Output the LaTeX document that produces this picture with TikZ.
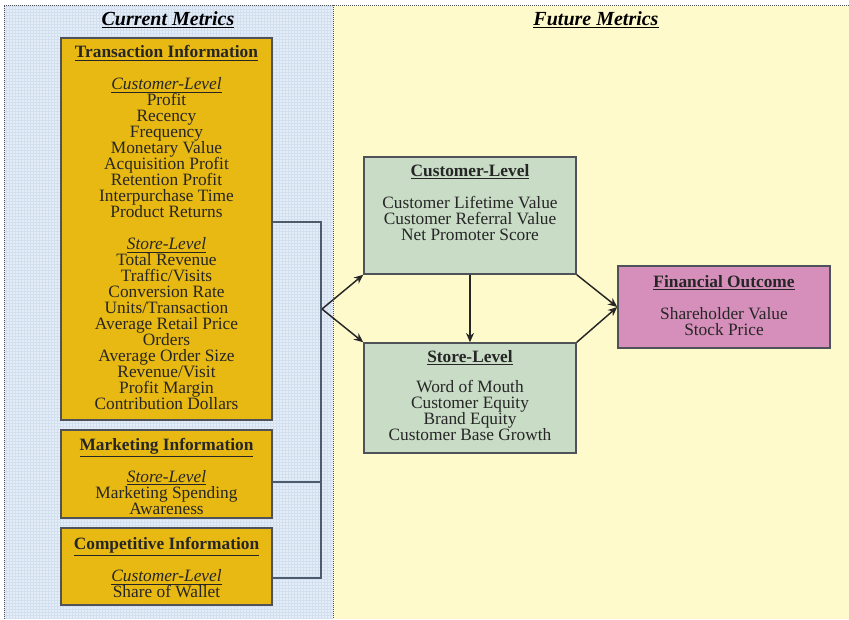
\documentclass[tikz,border=0pt]{standalone}
\usepackage{fontspec}
\setmainfont{Liberation Serif}
\usetikzlibrary{positioning,arrows.meta}

\definecolor{panelblue}{HTML}{E4EDF8}
\definecolor{gridblue}{HTML}{D2DFEF}
\definecolor{panelyellow}{HTML}{FFFACC}
\definecolor{boxgold}{HTML}{E8B912}
\definecolor{boxgreen}{HTML}{C8DCC6}
\definecolor{boxpink}{HTML}{D58FBA}
\definecolor{edgegray}{HTML}{4F5258}
\definecolor{linkslate}{HTML}{4C5C6C}

\newcommand\tightlines{\fontsize{13}{12}\selectfont\lineskiplimit=-20pt\relax}

\tikzset{
  box/.style={draw=edgegray, line width=1.1pt, inner sep=0pt},
  goldbox/.style={box, fill=boxgold, minimum width=158.25pt},
  greenbox/.style={box, fill=boxgreen, minimum width=159pt},
  pinkbox/.style={box, fill=boxpink, minimum width=159pt},
  boxtext/.style={align=center, inner sep=0pt, text=black!85, font=\tightlines},
  heading/.style={inner sep=0pt, font=\fontsize{15}{16}\selectfont\bfseries\itshape},
  link/.style={draw=linkslate, line width=1.1pt},
  flow/.style={-{Stealth[length=7pt,width=6pt]}, line width=1.1pt, black!85},
  panelrule/.style={edgegray, line width=0.6pt, dash pattern=on 0.75pt off 0.75pt}
}

\begin{document}
\begin{tikzpicture}[x=0.75pt, y=-0.75pt]
  \useasboundingbox (0,0) rectangle (849,619);

  \fill[panelblue] (4,5) rectangle (333,619);
  \draw[gridblue, line width=0.25pt, step=2.25pt] (4,619) grid (333,5);
  \fill[panelyellow] (333,5) rectangle (849,619);
  \draw[panelrule] (4,619) -- (4,5) -- (849,5);
  \draw[panelrule] (333,5) -- (333,619);

  \node[heading] (curtitle) at (168,20) {\underline{Current Metrics}};
  \node[heading] (futtitle) at (596,20) {\underline{Future Metrics}};

  % current metrics
  \node[goldbox, minimum height=286.5pt] (trans) at (166.5,229) {};
  \node[boxtext, below=6pt of trans.north] (transtext) {%
    \underline{\textbf{Transaction Information}}\\[12pt]
    \underline{\textit{Customer-Level}}\\ Profit\\ Recency\\ Frequency\\
    Monetary Value\\ Acquisition Profit\\ Retention Profit\\
    Interpurchase Time\\ Product Returns\\[12pt]
    \underline{\textit{Store-Level}}\\ Total Revenue\\ Traffic/Visits\\
    Conversion Rate\\ Units/Transaction\\ Average Retail Price\\ Orders\\
    Average Order Size\\ Revenue/Visit\\ Profit Margin\\ Contribution Dollars};

  \node[goldbox, minimum height=66pt] (mkt) at (166.5,474) {};
  \node[boxtext, below=6.5pt of mkt.north] (mkttext) {%
    \underline{\textbf{Marketing Information}}\\[12pt]
    \underline{\textit{Store-Level}}\\ Marketing Spending\\ Awareness};

  \node[goldbox, minimum height=57.75pt] (comp) at (166.5,566.5) {};
  \node[boxtext, below=7.5pt of comp.north] (comptext) {%
    \underline{\textbf{Competitive Information}}\\[12pt]
    \underline{\textit{Customer-Level}}\\ Share of Wallet};

  % future metrics
  \node[greenbox, minimum height=87.75pt] (cust) at (470,215.5) {};
  \node[boxtext, below=6pt of cust.north] (custtext) {%
    \underline{\textbf{Customer-Level}}\\[12pt]
    Customer Lifetime Value\\ Customer Referral Value\\ Net Promoter Score};

  \node[greenbox, minimum height=82.5pt] (store) at (470,398) {};
  \node[boxtext, below=6pt of store.north] (storetext) {%
    \underline{\textbf{Store-Level}}\\[10.5pt]
    Word of Mouth\\ Customer Equity\\ Brand Equity\\ Customer Base Growth};

  \node[pinkbox, minimum height=61.5pt] (fin) at (724,307) {};
  \node[boxtext, below=7.5pt of fin.north] (fintext) {%
    \underline{\textbf{Financial Outcome}}\\[12pt]
    Shareholder Value\\ Stock Price};

  % connectors
  \coordinate (topjoin) at (321,222);
  \coordinate (mktjoin) at (321,482);
  \coordinate (botjoin) at (321,578);
  \coordinate (fork) at (322,309);

  \draw[link] (trans.east |- topjoin) -- (topjoin) -- (botjoin) -- (comp.east |- botjoin);
  \draw[link] (mkt.east |- mktjoin) -- (mktjoin);

  \draw[flow] (fork) -- (cust.south west);
  \draw[flow] (fork) -- (store.north west);
  \draw[flow] (cust.south) -- (store.north);
  \draw[flow] (cust.south east) -- (fin.west);
  \draw[flow] (store.north east) -- (fin.west);
\end{tikzpicture}
\end{document}
